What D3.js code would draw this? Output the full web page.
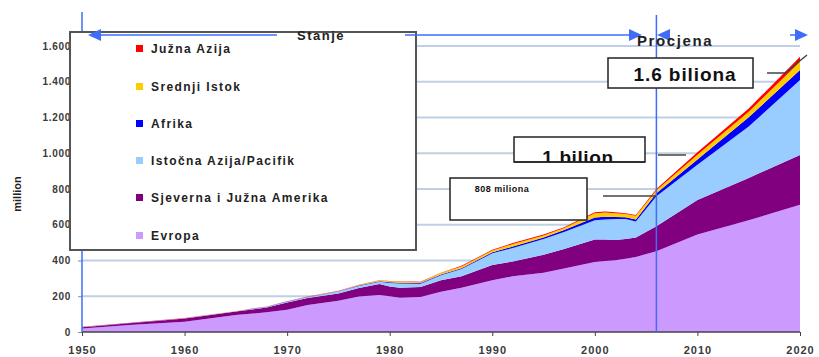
<!DOCTYPE html>
<html>
<head>
<meta charset="utf-8">
<script src="https://cdn.jsdelivr.net/npm/d3@7"></script>
<style>
  html, body { margin: 0; padding: 0; background: #fff; }
  svg { display: block; }
  text { font-family: "Liberation Sans", Arial, sans-serif; }
</style>
</head>
<body>
<svg id="chart" width="819" height="357"></svg>
<script>
// Years sampled along the series
const years = [1950, 1955, 1960, 1965, 1968, 1970, 1972, 1975, 1977, 1979, 1980, 1981, 1983,
  1985, 1987, 1990, 1992, 1995, 1997, 2000, 2001, 2002, 2003, 2004, 2006, 2010, 2015, 2020];

// Values per region (million), stacked bottom to top
const evropa    = [20, 40, 58, 95, 110, 125, 151, 175, 198, 207, 200, 192, 196, 225, 248, 290, 312, 332, 355, 392, 397, 402, 410, 420, 452, 545, 625, 712];
const amerika   = [7, 10, 17, 19, 27, 40, 39, 41, 48, 62, 55, 56, 56, 65, 64, 85, 83, 100, 110, 126, 121, 113, 110, 108, 140, 193, 237, 278];
const istAzija  = [0.5, 1, 1.5, 2, 3, 4, 5, 10, 12, 12, 19, 24, 18, 28, 40, 65, 75, 88, 95, 107, 112, 117, 112, 90, 168, 197, 287, 420];
const afrika    = [0.5, 0.5, 0.5, 0.5, 1, 1, 1, 2, 2, 3, 4, 4, 4, 4, 5, 6, 8, 8, 10, 15, 15, 12, 10, 12, 16, 30, 52, 56];
const srIstok   = [0.5, 0.5, 0.5, 0.5, 1, 1, 1.5, 2, 3, 4, 6, 6, 5, 8, 10, 10, 15, 12, 12, 24, 23, 21, 18, 20, 17, 27, 31, 46];
const juznaAzija = [0.5, 0.5, 0.5, 0.5, 0.5, 0.5, 0.5, 1, 1, 2, 2, 2, 2, 2, 3, 4, 5, 5, 4, 6, 6, 5, 5, 5, 7, 13, 18, 28];

// Series names (legend, top to bottom) and colours
const seriesNames = ["Južna Azija", "Srednji Istok", "Afrika", "Istočna Azija/Pacifik", "Sjeverna i Južna Amerika", "Evropa"];
const seriesColors = ["#FF0000", "#FFCC00", "#0000FF", "#99CCFF", "#800080", "#CC99FF"];

// Axis ticks
const yTicks = [0, 200, 400, 600, 800, 1000, 1200, 1400, 1600];
const xTicks = [1950, 1960, 1970, 1980, 1990, 2000, 2010, 2020];
const splitYear = 2006;

// Callouts
const notes = [
  { text: "1.6 biliona" },
  { text: "1 bilion" },
  { text: "808 miliona" }
];

const svg = d3.select("#chart");

const x = d3.scaleLinear().domain([1950, 2020]).range([82, 800]);
const y = d3.scaleLinear().domain([0, 1600]).range([332, 46]);

const locale = d3.formatLocale({ decimal: ",", thousands: ".", grouping: [3], currency: ["", ""] });
const fmt = locale.format(",d");

// Build table for stacking
const bottomUp = ["evropa", "amerika", "istAzija", "afrika", "srIstok", "juznaAzija"];
const cols = { evropa, amerika, istAzija, afrika, srIstok, juznaAzija };
const table = years.map((yr, i) => {
  const row = { year: yr };
  bottomUp.forEach(k => row[k] = cols[k][i]);
  return row;
});
const stacked = d3.stack().keys(bottomUp)(table);
const colorFor = {
  evropa: seriesColors[5], amerika: seriesColors[4], istAzija: seriesColors[3],
  afrika: seriesColors[2], srIstok: seriesColors[1], juznaAzija: seriesColors[0]
};

// Gridlines
svg.append("g").selectAll("line").data(yTicks.filter(d => d > 0)).join("line")
  .attr("x1", x(1950)).attr("x2", x(2020))
  .attr("y1", d => y(d)).attr("y2", d => y(d))
  .attr("stroke", "#BFD0E4").attr("stroke-width", 2);

// Stacked areas
const area = d3.area()
  .x(d => x(d.data.year))
  .y0(d => y(d[0]))
  .y1(d => y(d[1]));
svg.append("g").selectAll("path").data(stacked).join("path")
  .attr("d", area)
  .attr("fill", d => colorFor[d.key]);

// Y axis
const yAxis = d3.axisLeft(y).tickValues(yTicks).tickFormat(fmt).tickSize(4).tickPadding(7);
const gy = svg.append("g").attr("transform", `translate(${x(1950)},0)`).call(yAxis);
gy.select(".domain").remove();
gy.selectAll(".tick line").attr("stroke", "#7a8aa8");
gy.selectAll(".tick text").attr("font-size", 10).attr("font-weight", "bold")
  .attr("fill", "#3a3a3a").attr("letter-spacing", 0.7);

// X axis
const xAxis = d3.axisBottom(x).tickValues(xTicks).tickFormat(d3.format("d")).tickSize(4).tickPadding(10);
const gx = svg.append("g").attr("transform", `translate(0,${y(0)})`).call(xAxis);
gx.select(".domain").attr("stroke", "#444").attr("stroke-width", 1.5).attr("d", `M${x(1950)},0H${x(2020)}`);
gx.selectAll(".tick line").attr("stroke", "#444");
gx.selectAll(".tick text").attr("font-size", 11).attr("font-weight", "bold")
  .attr("fill", "#3a3a3a").attr("letter-spacing", 1);

// Y axis title
svg.append("text")
  .attr("transform", `translate(21,${(y(0) + y(1600)) / 2 + 5}) rotate(-90)`)
  .attr("text-anchor", "middle")
  .attr("font-size", 11).attr("font-weight", "bold").attr("fill", "#222")
  .text("million");

// Period markers
const blue = "#3f6dfa";
svg.append("line").attr("x1", x(1950)).attr("x2", x(1950)).attr("y1", 12).attr("y2", y(0))
  .attr("stroke", blue).attr("stroke-width", 1.5);
svg.append("line").attr("x1", x(splitYear)).attr("x2", x(splitYear)).attr("y1", 15).attr("y2", y(0))
  .attr("stroke", blue).attr("stroke-width", 1.5);

function arrowHead(g, tipX, tipY, dir) {
  const w = 13, h = 6;
  g.append("path")
    .attr("d", `M${tipX},${tipY}L${tipX - dir * w},${tipY - h}L${tipX - dir * w},${tipY + h}Z`)
    .attr("fill", blue);
}

// Legend box
const legend = svg.append("g");
legend.append("rect")
  .attr("x", 70).attr("y", 32).attr("width", 346).attr("height", 218)
  .attr("fill", "#fff").attr("stroke", "#555").attr("stroke-width", 2);
const rowY = [48, 86, 123, 160, 197, 235];
seriesNames.forEach((name, i) => {
  legend.append("rect").attr("x", 136).attr("y", rowY[i] - 3).attr("width", 7).attr("height", 7)
    .attr("fill", seriesColors[i]);
  legend.append("text").attr("x", 151).attr("y", rowY[i] + 5)
    .attr("font-size", 12).attr("font-weight", "bold").attr("fill", "#222")
    .attr("letter-spacing", 1.4)
    .text(name);
});

// "Stanje" arrow
const arrows = svg.append("g");
arrows.append("line").attr("x1", 95).attr("x2", 277).attr("y1", 35).attr("y2", 35)
  .attr("stroke", blue).attr("stroke-width", 1.5);
arrows.append("line").attr("x1", 405).attr("x2", 630).attr("y1", 35).attr("y2", 35)
  .attr("stroke", blue).attr("stroke-width", 1.5);
arrowHead(arrows, 88, 35, -1);
arrowHead(arrows, 642, 35, 1);
svg.append("text").attr("x", 297).attr("y", 40)
  .attr("font-size", 13).attr("font-weight", "bold").attr("fill", "#222").attr("letter-spacing", 1.5)
  .text("Stanje");

// "Procjena" arrow
arrowHead(arrows, 657, 35, -1);
arrows.append("line").attr("x1", 790).attr("x2", 800).attr("y1", 35).attr("y2", 35)
  .attr("stroke", blue).attr("stroke-width", 1.5);
arrowHead(arrows, 808, 35, 1);
svg.append("text").attr("x", 637).attr("y", 46)
  .attr("font-size", 15).attr("font-weight", "bold").attr("fill", "#222").attr("letter-spacing", 1.6)
  .text("Procjena");

// Callout boxes
const callouts = svg.append("g");
function box(x0, y0, w, h) {
  callouts.append("rect").attr("x", x0).attr("y", y0).attr("width", w).attr("height", h)
    .attr("fill", "#fff").attr("stroke", "#222").attr("stroke-width", 1.5);
}
function leader(points) {
  callouts.append("path").attr("d", d3.line()(points))
    .attr("fill", "none").attr("stroke", "#444").attr("stroke-width", 1.5);
}

// 1.6 biliona
box(608, 58, 145, 30);
callouts.append("text").attr("x", 685).attr("y", 81).attr("text-anchor", "middle")
  .attr("font-size", 19).attr("font-weight", "bold").attr("fill", "#111").attr("letter-spacing", 0.9)
  .text(notes[0].text);
leader([[767, 73], [785, 73], [807, 55]]);

// 1 bilion (text partly hidden by the box edge)
svg.append("clipPath").attr("id", "clipBilion")
  .append("rect").attr("x", 514).attr("y", 137).attr("width", 131).attr("height", 25);
box(514, 137, 131, 25);
callouts.append("text").attr("x", 578).attr("y", 164).attr("text-anchor", "middle")
  .attr("clip-path", "url(#clipBilion)")
  .attr("font-size", 19).attr("font-weight", "bold").attr("fill", "#111").attr("letter-spacing", 0.6)
  .text(notes[1].text);
callouts.append("line").attr("x1", 514).attr("x2", 645).attr("y1", 162).attr("y2", 162)
  .attr("stroke", "#222").attr("stroke-width", 1.5);
leader([[658, 155], [686, 155]]);

// 808 miliona
box(450, 178, 137, 42);
callouts.append("text").attr("x", 502).attr("y", 192).attr("text-anchor", "middle")
  .attr("font-size", 9).attr("font-weight", "bold").attr("fill", "#111").attr("letter-spacing", 0.5)
  .text(notes[2].text);
leader([[603, 196], [x(splitYear), 196]]);
</script>
</body>
</html>
